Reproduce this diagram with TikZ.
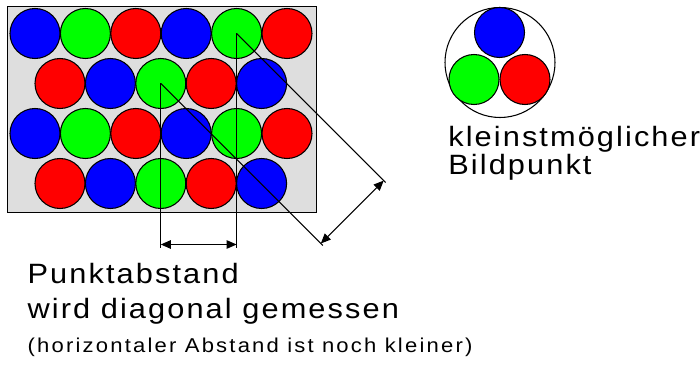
\documentclass[tikz,border=0pt]{standalone}
\usepackage{fontspec}
\usepackage{tikz}
\usetikzlibrary{arrows.meta,calc}
\newfontfamily\labfont[FakeStretch=1.1,LetterSpace=7.5]{Liberation Sans}
\newfontfamily\notefont[FakeStretch=1.1,LetterSpace=11]{Liberation Sans}
\definecolor{screen}{RGB}{222,222,222}
\definecolor{pblue}{RGB}{0,0,255}
\definecolor{pgreen}{RGB}{0,255,0}
\definecolor{pred}{RGB}{255,0,0}
\tikzset{
  dot/.style={circle, draw, fill=#1, line width=0.6pt, minimum size=10mm, inner sep=0pt, outer sep=0pt},
  aux/.style={line width=0.6pt},
  dim/.style={{Triangle[length=2mm,width=1.7mm]}-{Triangle[length=2mm,width=1.7mm]}, line width=0.6pt},
  lab/.style={font=\labfont\fontsize{15.9pt}{18pt}\selectfont, inner sep=0pt, anchor=base west},
  note/.style={font=\notefont\fontsize{11.4pt}{13pt}\selectfont, inner sep=0pt, anchor=base west},
}
\begin{document}
\begin{tikzpicture}[x=1cm,y=1cm]
  \useasboundingbox (0,0) rectangle (14,7.3);
  \node[draw, fill=screen, line width=0.6pt, minimum width=6.18cm, minimum height=4.12cm, inner sep=0pt, anchor=north west] (scr) at (0.14,7.18) {};
  % the phosphor dots, row by row
  \foreach \c [count=\i] in {pblue,pgreen,pred,pblue,pgreen,pred} { \node[dot=\c] (a\i) at ({0.70+(\i-1)*1.008},6.63) {}; }
  \foreach \c [count=\i] in {pred,pblue,pgreen,pred,pblue} { \node[dot=\c] (b\i) at ({1.20+(\i-1)*1.008},5.63) {}; }
  \foreach \c [count=\i] in {pblue,pgreen,pred,pblue,pgreen,pred} { \node[dot=\c] (c\i) at ({0.70+(\i-1)*1.008},4.63) {}; }
  \foreach \c [count=\i] in {pred,pblue,pgreen,pred,pblue} { \node[dot=\c] (d\i) at ({1.20+(\i-1)*1.008},3.63) {}; }
  % horizontal distance
  \coordinate (foot) at (0,2.35);
  \coordinate (hline) at (0,2.41);
  \draw[aux] (b3.center) -- (b3 |- foot);
  \draw[aux] (a5.center) -- (a5 |- foot);
  \draw[dim] (b3 |- hline) -- (a5 |- hline);
  % diagonal distance
  \coordinate (p1) at ($(b3)+(3.2,-3.2)$);
  \coordinate (p2) at ($(a5)+(2.942,-2.942)$);
  \draw[aux] (b3.center) -- ($(b3)+(3.24,-3.24)$);
  \draw[aux] (a5.center) -- ($(a5)+(2.98,-2.98)$);
  \draw[dim] (p1) -- (p2);
  % smallest picture element
  \node[circle, draw, line width=0.6pt, minimum size=22mm, inner sep=0pt] (pix) at (10.0,6.05) {};
  \node[dot=pblue] (pb) at (9.99,6.65) {};
  \node[dot=pgreen] (pg) at (9.48,5.71) {};
  \node[dot=pred] (pr) at (10.5,5.71) {};
  \node[lab] (kl) at (8.96,4.366) {kleinstmöglicher};
  \node[lab] (bp) at (8.96,3.814) {Bildpunkt};
  \node[lab] (pa) at (0.546,1.634) {Punktabstand};
  \node[lab] (wd) at (0.546,0.934) {wird diagonal gemessen};
  \node[note] (hz) at (0.546,0.26) {(horizontaler Abstand ist noch kleiner)};
\end{tikzpicture}
\end{document}
